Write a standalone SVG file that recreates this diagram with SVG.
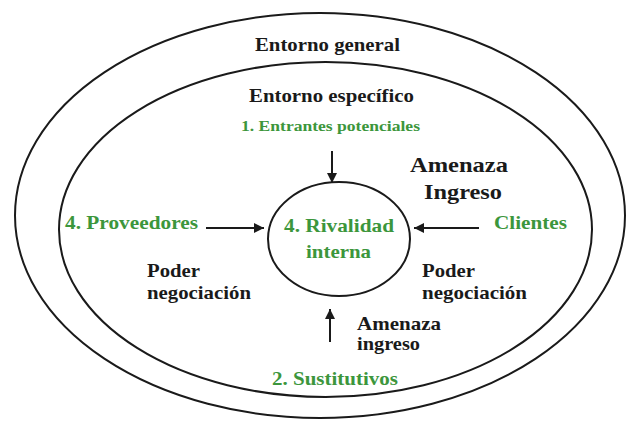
<svg xmlns="http://www.w3.org/2000/svg" width="640" height="431" viewBox="0 0 640 431">
<style>
.k{fill:#1a1a1a;}
.g{fill:#3c963c;}
.ln{fill:none;stroke:#1a1a1a;stroke-width:2;}
</style>
<defs>
<marker id="ah" viewBox="0 0 10 10" refX="10" refY="5" markerWidth="5" markerHeight="5" orient="auto" markerUnits="strokeWidth">
<path d="M0,0 L10,5 L0,10 z" fill="#1a1a1a"/>
</marker>
</defs>
<rect width="640" height="431" fill="#ffffff"/>
<g font-family="Liberation Serif, Times New Roman, serif" font-weight="bold">
<g id="entorno-general">
<ellipse class="ln" cx="320" cy="215.5" rx="305" ry="202.5"/>
<text class="k" x="255" y="51" font-size="19" textLength="145" lengthAdjust="spacingAndGlyphs">Entorno general</text>
</g>
<g id="entorno-especifico">
<ellipse class="ln" cx="325.5" cy="229.5" rx="266.5" ry="167.5"/>
<text class="k" x="249" y="102" font-size="19" textLength="165" lengthAdjust="spacingAndGlyphs">Entorno específico</text>
</g>
<g id="rivalidad">
<ellipse class="ln" cx="339" cy="239" rx="71" ry="57"/>
<text class="g" x="284" y="232" font-size="19" textLength="110" lengthAdjust="spacingAndGlyphs">4. Rivalidad</text>
<text class="g" x="306" y="258" font-size="19" textLength="65" lengthAdjust="spacingAndGlyphs">interna</text>
</g>
<g id="entrantes">
<text class="g" x="241" y="131" font-size="15" textLength="179" lengthAdjust="spacingAndGlyphs">1. Entrantes potenciales</text>
</g>
<g id="amenaza-ingreso-top">
<text class="k" x="410" y="172" font-size="22" textLength="98" lengthAdjust="spacingAndGlyphs">Amenaza</text>
<text class="k" x="424" y="199" font-size="22" textLength="78" lengthAdjust="spacingAndGlyphs">Ingreso</text>
</g>
<g id="proveedores">
<text class="g" x="65" y="229" font-size="19" textLength="133" lengthAdjust="spacingAndGlyphs">4. Proveedores</text>
</g>
<g id="clientes">
<text class="g" x="494" y="229" font-size="19" textLength="73" lengthAdjust="spacingAndGlyphs">Clientes</text>
</g>
<g id="poder-izq">
<text class="k" x="147" y="277" font-size="19" textLength="53" lengthAdjust="spacingAndGlyphs">Poder</text>
<text class="k" x="147" y="299" font-size="19" textLength="104" lengthAdjust="spacingAndGlyphs">negociación</text>
</g>
<g id="poder-der">
<text class="k" x="422" y="277" font-size="19" textLength="53" lengthAdjust="spacingAndGlyphs">Poder</text>
<text class="k" x="422" y="299" font-size="19" textLength="105" lengthAdjust="spacingAndGlyphs">negociación</text>
</g>
<g id="amenaza-ingreso-bottom">
<text class="k" x="357" y="330" font-size="19" textLength="84" lengthAdjust="spacingAndGlyphs">Amenaza</text>
<text class="k" x="357" y="350" font-size="19" textLength="63" lengthAdjust="spacingAndGlyphs">ingreso</text>
</g>
<g id="sustitutivos">
<text class="g" x="272" y="385" font-size="19" textLength="126" lengthAdjust="spacingAndGlyphs">2. Sustitutivos</text>
</g>
</g>
<g id="connectors">
<line class="ln" x1="332" y1="151" x2="332" y2="183" marker-end="url(#ah)"/>
<line class="ln" x1="206" y1="228" x2="264" y2="228" marker-end="url(#ah)"/>
<line class="ln" x1="479" y1="228" x2="414" y2="228" marker-end="url(#ah)"/>
<line class="ln" x1="330" y1="342" x2="330" y2="309" marker-end="url(#ah)"/>
</g>
</svg>
